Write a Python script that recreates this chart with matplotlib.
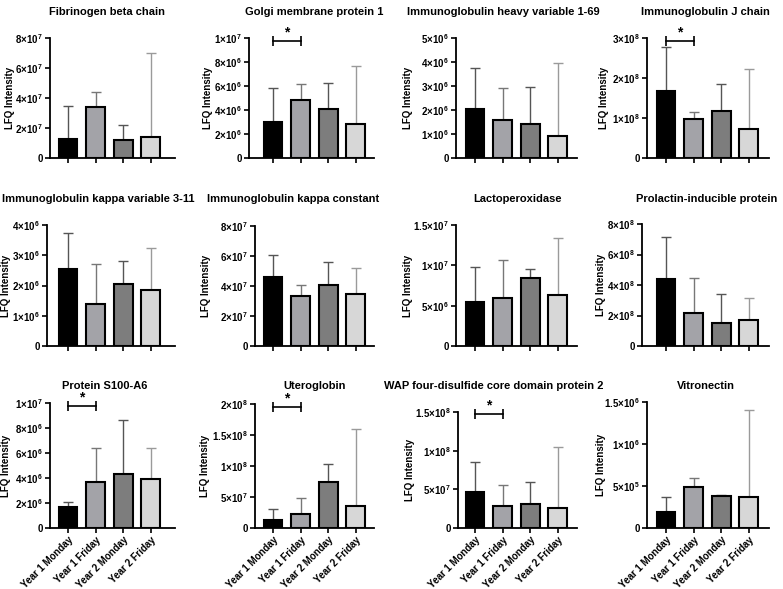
import numpy as np
import matplotlib.pyplot as plt
from matplotlib.transforms import blended_transform_factory

plt.rcParams['font.family'] = ['Liberation Sans', 'DejaVu Sans']
plt.rcParams['font.weight'] = 'bold'
plt.rcParams['mathtext.fontset'] = 'custom'
plt.rcParams['mathtext.rm'] = 'Liberation Sans:bold'
plt.rcParams['mathtext.bf'] = 'Liberation Sans:bold'
plt.rcParams['mathtext.default'] = 'bf'

# ------------------------------
# Data
# ------------------------------
groups = ['Year 1 Monday', 'Year 1 Friday', 'Year 2 Monday', 'Year 2 Friday']

proteins = ['Fibrinogen beta chain', 'Golgi membrane protein 1',
            'Immunoglobulin heavy variable 1-69', 'Immunoglobulin J chain',
            'Immunoglobulin kappa variable 3-11', 'Immunoglobulin kappa constant',
            'Lactoperoxidase', 'Prolactin-inducible protein',
            'Protein S100-A6', 'Uteroglobin',
            'WAP four-disulfide core domain protein 2', 'Vitronectin']

means = [[1.3e7, 3.4e7, 1.2e7, 1.4e7],
         [3.0e6, 4.85e6, 4.05e6, 2.8e6],
         [2.05e6, 1.57e6, 1.43e6, 0.9e6],
         [1.68e8, 0.97e8, 1.17e8, 0.73e8],
         [2.55e6, 1.4e6, 2.05e6, 1.85e6],
         [4.6e7, 3.35e7, 4.05e7, 3.45e7],
         [5.5e6, 5.9e6, 8.4e6, 6.3e6],
         [4.4e8, 2.15e8, 1.52e8, 1.7e8],
         [1.72e6, 3.65e6, 4.3e6, 3.95e6],
         [1.3e7, 2.3e7, 7.4e7, 3.6e7],
         [4.7e7, 2.85e7, 3.1e7, 2.6e7],
         [1.95e5, 4.9e5, 3.8e5, 3.7e5]]

# mean + SD (top of the error bar)
upper = [[3.5e7, 4.4e7, 2.2e7, 7.0e7],
         [5.8e6, 6.2e6, 6.25e6, 7.65e6],
         [3.73e6, 2.92e6, 2.97e6, 3.95e6],
         [2.77e8, 1.14e8, 1.86e8, 2.22e8],
         [3.72e6, 2.72e6, 2.82e6, 3.25e6],
         [6.1e7, 4.05e7, 5.6e7, 5.2e7],
         [9.8e6, 1.07e7, 9.6e6, 1.34e7],
         [7.15e8, 4.45e8, 3.42e8, 3.15e8],
         [2.1e6, 6.4e6, 8.65e6, 6.4e6],
         [3.1e7, 4.8e7, 1.03e8, 1.59e8],
         [8.5e7, 5.6e7, 6.0e7, 1.05e8],
         [3.7e5, 6.0e5, 3.9e5, 1.4e6]]

y_top = [8e7, 1e7, 5e6, 3e8, 4e6, 8e7, 1.5e7, 8e8, 1e7, 2e8, 1.5e8, 1.5e6]
y_step = [2e7, 2e6, 1e6, 1e8, 1e6, 2e7, 5e6, 2e8, 2e6, 5e7, 5e7, 5e5]

# height of the "*" bracket between Year 1 Monday and Year 1 Friday
sig_y = [None, 9.75e6, None, 2.93e8, None, None, None, None,
         9.8e6, 1.95e8, 1.48e8, None]

# ------------------------------
# Style / layout (pixels)
# ------------------------------
fills = ['#000000', '#a3a3a8', '#7d7d7d', '#d7d7d7']
err_cols = ['#555555', '#777777', '#555555', '#9a9a9a']

W, H = 783, 589
spine_x = [[50, 249, 456, 647], [47, 255, 456, 642], [50, 255, 458, 647]]
right_x = [175, 374, 577, 769]
bottom_y = [158, 346, 528]
top_y = [[38, 38, 38, 38], [225, 226, 225, 224], [403, 404, 412, 402]]
bar0_x = [68, 273, 475, 666]
bar_gap = 27.6
title_x = [[107, 314, 503, 705], [98, 293, 518, 707], [105, 315, 494, 706]]
title_y = [12, 199, 386]
ylabel_x = [[15, 213, 413, 609], [11, 211, 413, 606], [11, 210, 415, 606]]


def sci_label(v):
    if v == 0:
        return '0'
    e = int(np.floor(np.log10(v) + 1e-9))
    m = v / 10**e
    return '%g×10$^{%d}$' % (m, e)


fig = plt.figure(figsize=(W / 100, H / 100), dpi=100)
x = np.arange(len(groups))

for k, name in enumerate(proteins):
    r, c = divmod(k, 4)
    L, R = spine_x[r][c], right_x[c]
    T, B = top_y[r][c], bottom_y[r]
    ax = fig.add_axes([L / W, 1 - B / H, (R - L) / W, (B - T) / H])

    ax.bar(x, means[k], width=0.68, color=fills, edgecolor='black',
           linewidth=1.5, zorder=3)
    for i in range(len(groups)):
        ax.errorbar(x[i], means[k][i], yerr=[[0], [upper[k][i] - means[k][i]]],
                    fmt='none', ecolor=err_cols[i], elinewidth=1,
                    capsize=3.5, capthick=1, zorder=2)

    ax.set_xlim((L - bar0_x[c]) / bar_gap, (R - bar0_x[c]) / bar_gap)
    ax.set_ylim(0, y_top[k])
    ticks = np.arange(0, y_top[k] + y_step[k] / 2, y_step[k])
    ax.set_yticks(ticks)
    ax.set_yticklabels([sci_label(t) for t in ticks])
    ax.set_xticks(x)
    if r == 2:
        ax.set_xticklabels(groups, rotation=45, ha='right',
                           rotation_mode='anchor', fontsize=7)
    else:
        ax.set_xticklabels([])

    for s in ['top', 'right']:
        ax.spines[s].set_visible(False)
    for s in ['left', 'bottom']:
        ax.spines[s].set_linewidth(1.3)
    ax.tick_params(direction='out', length=3.5, width=1.2, pad=1.5)
    ax.tick_params(axis='y', labelsize=7)
    ax.set_ylabel('LFQ Intensity', fontsize=7, fontweight='bold')
    ax.yaxis.set_label_coords(ylabel_x[r][c] / W, 0.5,
                              transform=blended_transform_factory(fig.transFigure, ax.transAxes))

    if sig_y[k] is not None:
        ax.plot([0, 1], [sig_y[k], sig_y[k]], color='black', lw=1.2,
                marker='|', markersize=7, mew=1.2, clip_on=False, zorder=4)
        ax.annotate('*', (0.5, sig_y[k]), xytext=(0, 1), textcoords='offset points',
                    ha='center', va='bottom', fontsize=10, fontweight='bold',
                    annotation_clip=False)

    fig.text(title_x[r][c] / W, 1 - title_y[r] / H, name, ha='center',
             va='center', fontsize=8, fontweight='bold')

fig.savefig('out.png', dpi=100)
